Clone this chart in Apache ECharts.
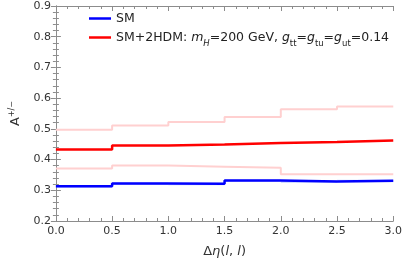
<!DOCTYPE html>
<html>
<head>
<meta charset="utf-8">
<script src="https://cdn.jsdelivr.net/npm/echarts@6/dist/echarts.min.js"></script>
<style>html,body{margin:0;padding:0;background:#fff;}#c{width:405px;height:263px;}</style>
</head>
<body>
<div id="c"></div>
<script>
var binEdges = [0, 0.5, 1.0, 1.5, 2.0, 2.5, 3.0];
var smValues = [0.313, 0.322, 0.321, 0.332, 0.329, 0.331];
var smUpper  = [0.316, 0.325, 0.324, 0.335, 0.332, 0.334];
var smLower  = [0.308, 0.317, 0.316, 0.327, 0.324, 0.326];
var hdmValues = [0.433, 0.446, 0.449, 0.454, 0.457, 0.462];
var hdmUpper  = [0.497, 0.511, 0.522, 0.539, 0.564, 0.573];
var hdmLower  = [0.371, 0.381, 0.377, 0.373, 0.352, 0.352];
var xTicks = ['0.0','0.5','1.0','1.5','2.0','2.5','3.0'];

function stepData(vals) {
  var d = [];
  for (var i = 0; i < vals.length; i++) d.push([binEdges[i], vals[i]]);
  d.push([binEdges[binEdges.length - 1], vals[vals.length - 1]]);
  return d;
}
function bandData(lo, hi) {
  return lo.map(function (v, i) { return [binEdges[i], binEdges[i + 1], v, hi[i]]; });
}

var axisGray = '#8c8c8c';
var font = 'DejaVu Sans';

function xAx(pos, showLabel) {
  return {
    type: 'value', position: pos, min: 0, max: 3, interval: 0.5,
    axisLine: { show: true, lineStyle: { color: axisGray, width: 1 } },
    axisTick: { show: true, inside: true, length: 5, lineStyle: { color: axisGray } },
    minorTick: { show: true, splitNumber: 5, length: 3, lineStyle: { color: axisGray } },
    splitLine: { show: false },
    axisLabel: { show: showLabel, margin: 5, color: '#333', fontSize: 11, fontFamily: font,
      formatter: function (v) { return xTicks[Math.round(v / 0.5)]; } },
    name: showLabel ? '{g|Δ}{i|η}{g|(}{i|l}{g|, }{i|l}{g|)}' : '',
    nameLocation: 'middle', nameGap: 24,
    nameTextStyle: { rich: {
      g: { fontSize: 13, fontFamily: font, color: '#333' },
      i: { fontSize: 13, fontFamily: font, fontStyle: 'italic', color: '#333' } } }
  };
}
function yAx(pos, showLabel) {
  return {
    type: 'value', position: pos, min: 0.2, max: 0.9, interval: 0.1,
    axisLine: { show: true, lineStyle: { color: axisGray, width: 1 } },
    axisTick: { show: true, inside: true, length: 5, lineStyle: { color: axisGray } },
    minorTick: { show: true, splitNumber: 5, length: 3, lineStyle: { color: axisGray } },
    splitLine: { show: false },
    axisLabel: { show: showLabel, margin: 5, color: '#333', fontSize: 11, fontFamily: font,
      formatter: function (v) { return v.toFixed(1); } },
    name: showLabel ? '{a|A}{s|+/−}' : '',
    nameLocation: 'middle', nameGap: 31, nameRotate: 90,
    nameTextStyle: { rich: {
      a: { fontSize: 13, fontFamily: font, color: '#333' },
      s: { fontSize: 8, fontFamily: font, color: '#333', verticalAlign: 'top', padding: [0, 0, 8, 0] } } }
  };
}

var lineBase = { type: 'line', step: 'end', symbol: 'none', silent: true, z: 2 };

var option = {
  animation: false,
  backgroundColor: '#fff',
  grid: { left: 45, right: 10, top: 6, bottom: 41, containLabel: false },
  xAxis: [xAx('bottom', true), xAx('top', false)],
  yAxis: [yAx('left', true), yAx('right', false)],
  legend: {
    data: ['SM', 'SM+2HDM'],
    orient: 'vertical', left: 84, top: 7, itemGap: 6,
    itemWidth: 22, itemHeight: 14, icon: 'path://M0,6 L22,6 L22,8.5 L0,8.5 Z',
    textStyle: { fontSize: 12.5, fontFamily: font, color: '#222',
      rich: {
        i: { fontSize: 12.5, fontFamily: font, fontStyle: 'italic', color: '#222' },
        sub: { fontSize: 8.5, fontFamily: font, color: '#222', verticalAlign: 'bottom', padding: [0, 0, -4, 0] },
        isub: { fontSize: 8.5, fontFamily: font, fontStyle: 'italic', color: '#222', verticalAlign: 'bottom', padding: [0, 0, -4, 0] }
      } },
    formatter: function (n) {
      if (n === 'SM') return 'SM';
      return 'SM+2HDM: {i|m}{isub|H}=200 GeV, {i|g}{sub|tt}={i|g}{sub|tu}={i|g}{sub|ut}=0.14';
    }
  },
  series: [
    {
      type: 'custom', name: 'smBand', silent: true, z: 1,
      data: bandData(smLower, smUpper),
      renderItem: function (params, api) {
        var p0 = api.coord([api.value(0), api.value(3)]);
        var p1 = api.coord([api.value(1), api.value(2)]);
        return { type: 'rect', shape: { x: p0[0], y: p0[1], width: p1[0] - p0[0], height: p1[1] - p0[1] },
          style: { fill: 'rgba(150,175,255,0.45)' } };
      }
    },
    Object.assign({}, lineBase, { name: 'hdmUp', data: stepData(hdmUpper),
      lineStyle: { color: '#ffd0d0', width: 2 } }),
    Object.assign({}, lineBase, { name: 'hdmLow', data: stepData(hdmLower),
      lineStyle: { color: '#ffd0d0', width: 2 } }),
    Object.assign({}, lineBase, { name: 'SM', data: stepData(smValues), z: 3,
      itemStyle: { color: '#0000ff' }, lineStyle: { color: '#0000ff', width: 2.5 } }),
    Object.assign({}, lineBase, { name: 'SM+2HDM', data: stepData(hdmValues), z: 3,
      itemStyle: { color: '#ff0000' }, lineStyle: { color: '#ff0000', width: 2.5 } })
  ]
};

var chart = echarts.init(document.getElementById('c'), null, { renderer: 'canvas' });
chart.setOption(option);
</script>
</body>
</html>
